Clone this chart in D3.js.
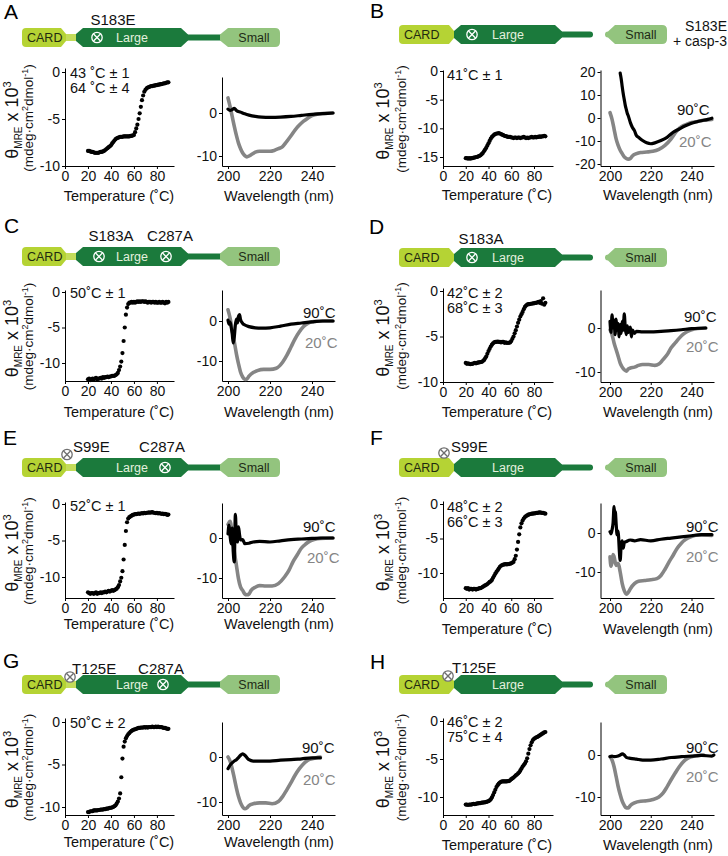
<!DOCTYPE html>
<html><head><meta charset="utf-8">
<script src="https://cdn.jsdelivr.net/npm/d3@7"></script>
<style>
body{margin:0;background:#fff;}
svg{font-family:"Liberation Sans",Arial,Helvetica,sans-serif;}
</style></head><body>
<script>
// ---------------- DATA ----------------
const temps = [20,21,22,23,24,25,26,27,28,29,30,31,32,33,34,35,36,37,38,39,40,41,42,43,44,45,46,47,48,49,50,51,52,53,54,55,56,57,58,59,60,61,62,63,64,65,66,67,68,69,70,71,72,73,74,75,76,77,78,79,80,81,82,83,84,85,86,87,88,89,90];
const tempTicks = [0,20,40,60,80];
const waveTicks = [200,220,240];

const meltA = [-8.4,-8.4,-8.45,-8.5,-8.5,-8.55,-8.6,-8.6,-8.6,-8.6,-8.55,-8.5,-8.5,-8.45,-8.4,
 -8.3,-8.2,-8.1,-8.0,-7.9,-7.8,-7.6,-7.45,-7.3,-7.15,
 -7.05,-7.0,-6.95,-6.9,-6.9,-6.9,-6.85,-6.85,-6.85,-6.85,
 -6.85,-6.85,-6.8,-6.8,-6.75,-6.7,-6.4,-6.0,-5.6,-5.0,
 -4.4,-3.7,-3.0,-2.5,-2.1,-1.9,-1.75,-1.65,-1.6,-1.55,
 -1.5,-1.5,-1.45,-1.45,-1.4,-1.4,-1.35,-1.35,-1.3,-1.3,
 -1.25,-1.2,-1.2,-1.15,-1.1,-1.1];
const meltB = [-15.2,-15.2,-15.3,-15.2,-15.3,-15.2,-15.2,-15.1,-15.1,-15.0,-15.0,-14.9,-14.8,-14.7,-14.5,
 -14.3,-14.0,-13.7,-13.4,-13.0,-12.6,-12.2,-11.8,-11.5,-11.3,
 -11.1,-11.0,-10.9,-10.9,-10.85,-10.9,-11.0,-11.1,-11.2,-11.3,
 -11.35,-11.4,-11.5,-11.5,-11.5,-11.6,-11.6,-11.7,-11.6,-11.6,
 -11.7,-11.6,-11.6,-11.7,-11.6,-11.6,-11.5,-11.6,-11.7,-11.6,
 -11.7,-11.6,-11.6,-11.5,-11.6,-11.6,-11.5,-11.6,-11.5,-11.5,
 -11.4,-11.5,-11.4,-11.4,-11.3,-11.4];
const meltC = [-12.3,-12.2,-12.4,-12.3,-12.2,-12.3,-12.2,-12.1,-12.3,-12.2,-12.2,-12.1,-12.2,-12.0,-12.1,
 -12.0,-12.0,-11.9,-12.0,-11.9,-11.9,-11.8,-11.8,-11.8,-11.7,
 -11.6,-11.4,-11.0,-10.5,-9.8,-8.6,-6.9,-5.0,-3.2,-2.2,
 -1.7,-1.5,-1.5,-1.4,-1.5,-1.4,-1.5,-1.4,-1.3,-1.4,
 -1.3,-1.4,-1.3,-1.3,-1.4,-1.3,-1.4,-1.5,-1.4,-1.4,
 -1.5,-1.4,-1.4,-1.5,-1.4,-1.5,-1.5,-1.4,-1.5,-1.5,
 -1.4,-1.5,-1.6,-1.4,-1.5,-1.4];
const meltD = [-7.9,-8.0,-7.95,-8.0,-8.05,-8.0,-8.0,-7.95,-7.9,-7.95,-7.9,-7.85,-7.85,-7.8,-7.8,
 -7.7,-7.6,-7.4,-7.2,-6.9,-6.6,-6.35,-6.1,-5.9,-5.75,
 -5.65,-5.6,-5.6,-5.55,-5.6,-5.6,-5.65,-5.6,-5.6,-5.7,
 -5.65,-5.7,-5.7,-5.7,-5.65,-5.5,-5.25,-5.0,-4.65,-4.3,
 -3.9,-3.5,-3.15,-2.8,-2.55,-2.3,-2.0,-1.75,-1.6,-1.5,
 -1.45,-1.45,-1.4,-1.4,-1.35,-1.35,-1.3,-1.3,-1.25,-1.2,
 -1.3,-1.1,-1.4,-0.8,-1.5,-1.3];
const meltE = [-12.1,-12.2,-12.3,-12.2,-12.2,-12.3,-12.2,-12.1,-12.3,-12.2,-12.2,-12.1,-12.2,-12.1,-12.1,
 -12.0,-12.1,-12.0,-11.9,-12.0,-11.9,-11.8,-11.9,-11.8,-11.7,
 -11.6,-11.4,-11.1,-10.6,-10.1,-9.2,-7.6,-5.6,-3.7,-2.5,
 -2.0,-1.8,-1.7,-1.6,-1.5,-1.45,-1.4,-1.4,-1.35,-1.3,
 -1.35,-1.3,-1.25,-1.3,-1.2,-1.25,-1.2,-1.2,-1.15,-1.2,
 -1.15,-1.1,-1.2,-1.2,-1.25,-1.2,-1.3,-1.25,-1.3,-1.35,
 -1.3,-1.4,-1.35,-1.4,-1.5,-1.45];
const meltF = [-12.2,-12.3,-12.2,-12.4,-12.3,-12.3,-12.4,-12.3,-12.3,-12.4,-12.3,-12.3,-12.2,-12.2,-12.1,
 -12.0,-11.9,-11.8,-11.7,-11.6,-11.45,-11.3,-11.2,-11.0,-10.7,
 -10.4,-10.1,-9.85,-9.6,-9.35,-9.1,-8.95,-8.85,-8.8,-8.75,
 -8.7,-8.75,-8.7,-8.7,-8.65,-8.6,-8.5,-8.4,-8.0,-7.5,
 -6.6,-5.5,-4.4,-3.4,-2.8,-2.4,-2.1,-1.9,-1.75,-1.65,
 -1.55,-1.5,-1.45,-1.4,-1.4,-1.35,-1.35,-1.3,-1.3,-1.25,
 -1.2,-1.25,-1.3,-1.3,-1.35,-1.4];
const meltG = [-10.6,-10.6,-10.5,-10.5,-10.5,-10.4,-10.4,-10.4,-10.4,-10.35,-10.35,-10.3,-10.3,-10.3,-10.25,
 -10.25,-10.2,-10.2,-10.15,-10.1,-10.1,-10.05,-10.0,-9.9,-9.8,
 -9.6,-9.35,-9.0,-8.4,-6.5,-4.3,-2.9,-2.3,-1.9,-1.65,
 -1.45,-1.3,-1.15,-1.05,-0.95,-0.9,-0.85,-0.8,-0.75,-0.7,
 -0.7,-0.65,-0.65,-0.65,-0.6,-0.65,-0.6,-0.65,-0.6,-0.6,
 -0.6,-0.55,-0.6,-0.6,-0.55,-0.6,-0.55,-0.6,-0.6,-0.6,
 -0.65,-0.7,-0.7,-0.75,-0.8,-0.8];
const meltH = [-11.0,-11.0,-11.05,-11.0,-11.0,-11.0,-10.95,-10.9,-10.95,-10.9,-10.85,-10.85,-10.8,-10.8,-10.75,
 -10.75,-10.7,-10.7,-10.65,-10.6,-10.55,-10.45,-10.3,-10.05,-9.75,
 -9.4,-9.05,-8.7,-8.45,-8.25,-8.1,-8.0,-7.95,-7.95,-7.95,
 -7.95,-7.95,-7.9,-7.9,-7.8,-7.65,-7.55,-7.45,-7.3,-7.15,
 -7.05,-6.9,-6.75,-6.5,-6.25,-6.0,-5.8,-5.6,-5.3,-4.9,
 -4.3,-3.7,-3.2,-2.8,-2.5,-2.35,-2.25,-2.15,-2.1,-2.0,
 -1.9,-1.8,-1.7,-1.6,-1.5,-1.45];

// CD spectra: [wavelength nm, theta x10^3]
const cdA20 = [[200,3.5],[201,1.5],[202,-0.8],[203,-3.1],[204,-5.2],[205,-7.0],[206,-8.3],[207,-9.3],[208,-9.9],[209,-10.2],[210,-10.0],[211,-9.7],[212,-9.4],[213,-9.1],[215,-8.9],[218,-8.9],[220,-8.9],[222,-8.7],[224,-8.3],[226,-7.8],[228,-6.6],[230,-5.3],[232,-3.9],[234,-2.8],[236,-1.9],[238,-1.2],[240,-0.6],[243,-0.2],[246,-0.1],[250,0]];
const cdA90 = [[200,0.9],[201,0.6],[202,0.8],[203,1.1],[204,0.6],[206,0.2],[208,-0.2],[210,-0.5],[213,-0.8],[216,-0.95],[220,-1.0],[225,-0.95],[230,-0.8],[235,-0.55],[240,-0.3],[245,-0.15],[250,0]];
const cdB20 = [[200,2.3],[201,-0.6],[202,-4.8],[203,-9.1],[204,-11.9],[205,-14.0],[206,-15.5],[207,-16.9],[208,-17.6],[209,-17.9],[210,-17.6],[211,-16.5],[213,-15.5],[215,-15.0],[218,-14.8],[221,-14.5],[224,-13.6],[227,-11.9],[230,-9.1],[232,-6.5],[234,-4.5],[236,-3.3],[238,-2.6],[240,-2.0],[243,-1.5],[246,-1.0],[250,-0.6]];
const cdB90 = [[205,19.5],[205.5,17],[206,13.6],[206.5,10.5],[207,8],[207.5,5.5],[208,3.7],[208.5,2],[209,0.9],[210,-2],[211,-4.1],[212,-5.5],[213,-7.7],[214,-8.4],[216,-9.8],[218,-10.8],[220,-11.2],[222,-10.8],[225,-9.8],[228,-8.4],[231,-6.2],[234,-4.8],[237,-3.4],[240,-2.3],[244,-1.3],[248,-0.6],[250,-0.1]];
const cdC20 = [[200,2.8],[201,0.7],[202,-2.3],[203,-5.2],[204,-8.2],[205,-10.7],[206,-12.8],[207,-14.0],[208,-14.6],[209,-14.5],[210,-13.8],[212,-12.9],[214,-12.4],[217,-12.1],[220,-12.1],[223,-11.8],[226,-10.3],[228,-8.6],[230,-6.5],[232,-4.4],[234,-2.7],[236,-1.4],[238,-0.6],[240,-0.2],[243,-0.05],[246,0],[250,0]];
const cdC90 = [[200,0.2],[200.5,-0.8],[201,-0.3],[201.5,-1.5],[202,-3.2],[202.5,-5.5],[203,-4.0],[203.5,-1.0],[204,0.5],[204.5,-0.5],[205,1.2],[205.5,1.6],[206,0.3],[207,-0.6],[208,-1.0],[210,-1.4],[213,-1.7],[216,-1.8],[220,-1.7],[225,-1.3],[230,-0.8],[235,-0.5],[240,-0.2],[245,0],[250,0]];
const cdD20 = [[200,-0.4],[201,-1.5],[202,-3.4],[203,-4.9],[204,-6.4],[205,-8.0],[206,-8.9],[207,-9.5],[208,-9.8],[209,-9.3],[210,-9.1],[212,-8.9],[214,-8.5],[216,-8.3],[219,-8.3],[222,-8.5],[224,-8.2],[226,-7.2],[228,-6.1],[230,-4.5],[232,-3.4],[234,-2.3],[236,-1.4],[238,-0.8],[240,-0.4],[243,-0.1],[247,0]];
const cdD90 = [[200,1.5],[200.5,-1.0],[201,3.0],[201.5,0],[202,1.8],[202.5,-1.5],[203,2.0],[203.5,-0.5],[204,1.0],[204.5,-2.0],[205,0.8],[205.5,-1.2],[206,1.5],[206.5,-0.5],[207,3.2],[207.5,0],[208,-1.5],[208.5,0.5],[209,-1.0],[210,0.2],[210.5,-2.0],[211,-0.5],[212,-1.2],[213,-0.75],[216,-0.9],[220,-0.9],[225,-0.75],[230,-0.6],[235,-0.4],[240,-0.15],[247,0]];
const cdE20 = [[200,3.4],[201,4.2],[202,0.8],[203,-3.4],[204,-6.8],[205,-10.2],[206,-12.3],[207,-13.1],[208,-14.0],[209,-14.2],[210,-14.0],[211,-13.1],[213,-12.3],[215,-11.9],[218,-12.0],[221,-12.0],[224,-11.4],[227,-9.7],[229,-8.1],[231,-5.9],[233,-4.2],[235,-2.5],[237,-1.5],[239,-0.8],[241,-0.4],[244,-0.1],[250,0]];
const cdE90 = [[200,1.0],[200.5,3.2],[201,0.5],[201.5,-1.5],[202,2.5],[202.5,-3.5],[203,-6.0],[203.5,5.9],[204,0.5],[204.5,-1.0],[205,2.8],[205.5,0.8],[206,-0.5],[207,-0.4],[208,-1.4],[210,-1.3],[212,-1.0],[215,-0.85],[220,-1.0],[225,-0.7],[230,-0.4],[235,-0.25],[240,-0.1],[245,0],[250,0]];
const cdF20 = [[200,-6.1],[200.5,-8.5],[201,-7.4],[201.5,-5.5],[202,-6.1],[203,-8.3],[204,-7.8],[205,-10.0],[206,-13.0],[207,-14.8],[208,-15.7],[209,-15.2],[210,-14.3],[212,-13.0],[214,-12.4],[217,-12.2],[220,-12.0],[223,-11.7],[225,-10.9],[227,-9.3],[229,-7.4],[231,-5.7],[233,-3.9],[235,-2.6],[237,-1.7],[240,-0.9],[244,-0.5],[250,-0.6]];
const cdF90 = [[200,0.3],[200.5,-0.2],[201,0.8],[201.5,2.5],[202,6.8],[202.3,4.5],[202.6,5.5],[203,2.5],[203.5,-0.5],[204,0.5],[204.3,-1.8],[204.6,-4.8],[205,-7.0],[205.5,-3.0],[206,-2.0],[206.5,-3.9],[207,-2.5],[208,-2.2],[210,-1.8],[212,-2.0],[215,-1.7],[220,-2.0],[225,-1.6],[230,-1.3],[235,-1.0],[240,-0.7],[245,-0.4],[250,-0.4]];
const cdG20 = [[200,0],[201,-0.9],[202,-2.6],[203,-4.7],[204,-6.9],[205,-8.8],[206,-10.2],[207,-11.1],[208,-11.5],[209,-11.3],[210,-10.8],[212,-10.4],[215,-10.2],[218,-10.2],[221,-10.4],[224,-9.9],[226,-8.8],[228,-7.3],[230,-5.7],[232,-4.0],[234,-2.6],[236,-1.5],[238,-0.7],[240,-0.4],[242,-0.15],[244,0]];
const cdG90 = [[200,-2.6],[201,-1.8],[202,-1.3],[203,-0.9],[204,-0.6],[205,-0.15],[206,0.4],[207,0.7],[208,0.4],[209,-0.15],[210,-0.6],[212,-0.9],[215,-0.9],[220,-0.9],[225,-0.7],[230,-0.6],[235,-0.4],[240,-0.2],[244,-0.2]];
const cdH20 = [[200,-0.4],[201,-1.2],[202,-2.8],[203,-5.1],[204,-7.5],[205,-9.4],[206,-11.0],[207,-12.0],[208,-12.6],[209,-12.6],[210,-12.0],[212,-11.4],[215,-11.0],[218,-10.9],[221,-10.6],[224,-10.0],[226,-9.1],[228,-7.6],[230,-5.9],[232,-4.3],[234,-2.8],[236,-1.6],[238,-0.8],[240,-0.4],[243,-0.15],[246,0]];
const cdH90 = [[200,-0.4],[201,-0.25],[202,-0.4],[204,-0.25],[205,0],[206,0.25],[207,0],[208,-0.55],[210,-0.8],[213,-1.0],[216,-1.2],[220,-1.2],[225,-0.95],[230,-0.6],[235,-0.4],[240,-0.25],[245,-0.1],[250,-0.25],[251,0]];

const tmLabels = {A:["43 ˚C ± 1","64 ˚C ± 4"],B:["41˚C ± 1"],C:["50˚C ± 1"],D:["42˚C ± 2","68˚C ± 3"],E:["52˚C ± 1"],F:["48˚C ± 2","66˚C ± 3"],G:["50˚C ± 2"],H:["46˚C ± 2","75˚C ± 4"]};

// ---------------- LAYOUT ----------------
const COL = [
 {ox:0, tAxis:65, tRef:[[0,65.5],[80,157]], tEnd:174, cAxis:222, cRef:[[200,228],[240,312]], cEnd:335,
  y1x:17.5, y2x:32.5, tTitle:119, cTitle:279, tmX:70,
  geo:{card0:22,card1:61,large0:76,large1:188,linkEnd:221,small0:220,smallFull:228,small1:280}},
 {ox:364, tAxis:443, tRef:[[0,443],[80,534]], tEnd:553, cAxis:600.5, cRef:[[200,610],[240,691.5]], cEnd:714,
  y1x:389, y2x:405.5, tTitle:497, cTitle:658, tmX:447,
  geo:{card0:35,card1:85,large0:90,large1:198,linkEnd:229,small0:241,smallFull:251,small1:303}}
];
const panels = [
 {id:"A",col:0,letter:[4,19],bar:28,melt:meltA,c20:cdA20,c90:cdA90,tV:[[0,72],[-10,166]],tT:68,tB:166,tTicks:[0,-5,-10],cV:[[0,113],[-10,156]],cT:77,cB:166,cTicks:[0,-10],title:201,tm:[78,93],lab:null,
  marks:[{x:97,inside:true}],muts:[{t:"S183E",x:113,y:25,a:"middle"}]},
 {id:"B",col:1,letter:[370,18],bar:25,melt:meltB,c20:cdB20,c90:cdB90,tV:[[0,71],[-15,157]],tT:70,tB:166,tTicks:[0,-5,-10,-15],cV:[[20,72],[-20,164]],cT:70,cB:166,cTicks:[20,10,0,-10,-20],title:200,tm:[80],lab:[[677,115],[679,147]],
  marks:[{x:472,inside:true}],muts:[{t:"S183E",x:727,y:31,a:"end",fs:14},{t:"+ casp-3",x:727,y:46,a:"end",fs:14}]},
 {id:"C",col:0,letter:[4,233],bar:247,melt:meltC,c20:cdC20,c90:cdC90,tV:[[0,292],[-10,363]],tT:290,tB:381,tTicks:[0,-5,-10],cV:[[0,321],[-10,361]],cT:290,cB:381,cTicks:[0,-10],title:417,tm:[298],lab:[[303,318],[305,348]],
  marks:[{x:99,inside:true},{x:166,inside:true}],muts:[{t:"S183A",x:111,y:241,a:"middle"},{t:"C287A",x:170,y:241,a:"middle"}]},
 {id:"D",col:1,letter:[369,234],bar:248,melt:meltD,c20:cdD20,c90:cdD90,tV:[[0,291],[-10,382]],tT:288,tB:382,tTicks:[0,-5,-10],cV:[[0,328],[-10,372]],cT:290,cB:382,cTicks:[0,-10],title:417,tm:[298,313],lab:[[684,322],[686,352]],
  marks:[{x:472,inside:true}],muts:[{t:"S183A",x:481,y:244,a:"middle"}]},
 {id:"E",col:0,letter:[3,445],bar:458,melt:meltE,c20:cdE20,c90:cdE90,tV:[[0,504],[-10,577]],tT:502,tB:598,tTicks:[0,-5,-10],cV:[[0,538],[-10,578]],cT:503,cB:598,cTicks:[0,-10],title:629,tm:[511],lab:[[303,532],[307,563]],
  marks:[{x:67,y:454.5,inside:false},{x:165,inside:true}],muts:[{t:"S99E",x:73,y:452,a:"start"},{t:"C287A",x:162,y:452,a:"middle"}]},
 {id:"F",col:1,letter:[370,445],bar:458,melt:meltF,c20:cdF20,c90:cdF90,tV:[[0,504],[-10,573]],tT:501,tB:598,tTicks:[0,-5,-10],cV:[[0,533],[-10,572]],cT:503,cB:598,cTicks:[0,-10],title:634,tm:[512,527],lab:[[686,532],[686,562]],
  marks:[{x:444,y:453,inside:false}],muts:[{t:"S99E",x:451,y:452,a:"start"}]},
 {id:"G",col:0,letter:[3,668],bar:675,melt:meltG,c20:cdG20,c90:cdG90,tV:[[0,722],[-10,807]],tT:718,tB:815,tTicks:[0,-5,-10],cV:[[0,757],[-10,802]],cT:722,cB:815,cTicks:[0,-10],title:847,tm:[728],lab:[[302,753],[303,785]],
  marks:[{x:70,y:677,inside:false},{x:163,inside:true}],muts:[{t:"T125E",x:72,y:674,a:"start"},{t:"C287A",x:161,y:674,a:"middle"}]},
 {id:"H",col:1,letter:[370,669],bar:675,melt:meltH,c20:cdH20,c90:cdH90,tV:[[0,721],[-10,797]],tT:718,tB:815,tTicks:[0,-5,-10],cV:[[0,755],[-10,797]],cT:722,cB:815,cTicks:[0,-10],title:850,tm:[727,742],lab:[[686,753],[686,782]],
  marks:[{x:448,y:676,inside:false}],muts:[{t:"T125E",x:452,y:673,a:"start"}]}
];

const CLR = {card:"#b5d334",cardLink:"#c3dc5a",large:"#1b7a3c",small:"#93c47e",gray:"#858585",
  cardTxt:"#1f2a10",largeTxt:"#e4f1de",smallTxt:"#1e2b16"};

// ---------------- DRAW ----------------
const svg = d3.select("body").append("svg").attr("width",728).attr("height",856);
const lin2 = ref => d3.scaleLinear().domain([ref[0][0],ref[1][0]]).range([ref[0][1],ref[1][1]]);

function mark(g,x,y,color,fill){
  const r=5.2, k=r*0.66;
  g.append("circle").attr("cx",x).attr("cy",y).attr("r",r).attr("fill",fill).attr("stroke",color).attr("stroke-width",1.3);
  g.append("line").attr("x1",x-k).attr("y1",y-k).attr("x2",x+k).attr("y2",y+k).attr("stroke",color).attr("stroke-width",1.3);
  g.append("line").attr("x1",x-k).attr("y1",y+k).attr("x2",x+k).attr("y2",y-k).attr("stroke",color).attr("stroke-width",1.3);
}

function domainBar(g, ox, geo, top, cleaved){
  const h=19, mid=top+h/2, b=top+h, X=v=>v+ox;
  const c0=X(geo.card0), c1=X(geo.card1), l0=X(geo.large0), l1=X(geo.large1), le=X(geo.linkEnd), s0=X(geo.small0), sf=X(geo.smallFull), s1=X(geo.small1);
  g.append("rect").attr("x",c1).attr("y",mid-3.5).attr("width",l0+4-c1).attr("height",7).attr("fill",CLR.cardLink);
  const r=4;
  g.append("path").attr("fill",CLR.card)
   .attr("d",`M${c0+r},${top}H${c1}L${c1+5},${mid-3.5}V${mid+3.5}L${c1},${b}H${c0+r}Q${c0},${b} ${c0},${b-r}V${top+r}Q${c0},${top} ${c0+r},${top}Z`);
  if(cleaved){
    g.append("rect").attr("x",l1-4).attr("y",mid-3).attr("width",le-l1+4).attr("height",6).attr("rx",3).attr("fill",CLR.large);
  } else {
    g.append("rect").attr("x",l1-4).attr("y",mid-3).attr("width",s0+4-l1+4).attr("height",6).attr("fill",CLR.large);
  }
  g.append("path").attr("fill",CLR.large)
   .attr("d",`M${l0},${mid-3.5}L${l0+7},${top}H${l1-7}L${l1},${mid-3}V${mid+3}L${l1-7},${b}H${l0+7}L${l0},${mid+3.5}Z`);
  const sr=5;
  if(cleaved){
    g.append("path").attr("fill",CLR.small)
     .attr("d",`M${s0+3},${mid-3}H${sf-7}L${sf},${top}H${s1-sr}Q${s1},${top} ${s1},${top+sr}V${b-sr}Q${s1},${b} ${s1-sr},${b}H${sf}L${sf-7},${mid+3}H${s0+3}A3,3 0 0 1 ${s0+3},${mid-3}Z`);
  } else {
    g.append("path").attr("fill",CLR.small)
     .attr("d",`M${s0},${mid-3}L${sf},${top}H${s1-sr}Q${s1},${top} ${s1},${top+sr}V${b-sr}Q${s1},${b} ${s1-sr},${b}H${sf}L${s0},${mid+3}Z`);
  }
  g.append("text").attr("x",c0+5).attr("y",mid+4.5).attr("fill",CLR.cardTxt).style("font-size","12.5px").text("CARD");
  g.append("text").attr("x",(l0+l1)/2).attr("y",mid+4.5).attr("text-anchor","middle").attr("fill",CLR.largeTxt).style("font-size","12.5px").text("Large");
  g.append("text").attr("x",(sf+s1)/2).attr("y",mid+4.5).attr("text-anchor","middle").attr("fill",CLR.smallTxt).style("font-size","12.5px").text("Small");
}

function styleAxis(sel){
  sel.select(".domain").attr("stroke","#000").attr("stroke-width",1);
  sel.selectAll(".tick line").attr("stroke","#000");
  sel.selectAll(".tick text").attr("fill","#111").style("font-size","14px").style("font-family",'"Liberation Sans",Arial,sans-serif');
}

panels.forEach(p=>{
  const c = COL[p.col];
  const g = svg.append("g");
  g.append("text").attr("x",p.letter[0]).attr("y",p.letter[1]).style("font-size","21px").attr("fill","#000").text(p.id);
  domainBar(g, c.ox, c.geo, p.bar, p.col===1);
  const mid = p.bar+9.5;
  p.marks.forEach(m=>{
    if(m.inside) mark(g,m.x,mid,"#ffffff","none");
    else mark(g,m.x,m.y,"#6f6f6f","#ffffff");
  });
  p.muts.forEach(m=>{
    g.append("text").attr("x",m.x).attr("y",m.y).attr("text-anchor",m.a).style("font-size",(m.fs||15)+"px").attr("fill","#111").text(m.t);
  });

  // ---- melting curve ----
  const xT0 = lin2(c.tRef);
  const xT = d3.scaleLinear().domain([0, xT0.invert(c.tEnd)]).range([c.tAxis, c.tEnd]);
  const yT0 = lin2(p.tV);
  const yT = d3.scaleLinear().domain([yT0.invert(p.tB), yT0.invert(p.tT)]).range([p.tB, p.tT]);
  const ax1 = g.append("g").attr("transform",`translate(${c.tAxis},0)`)
    .call(d3.axisLeft(yT).tickValues(p.tTicks).tickFormat(d=>String(d)).tickSize(3).tickSizeOuter(0).tickPadding(2));
  styleAxis(ax1);
  const ax2 = g.append("g").attr("transform",`translate(0,${p.tB})`)
    .call(d3.axisBottom(xT).tickValues(tempTicks).tickFormat(d=>String(d)).tickSize(3).tickSizeOuter(0).tickPadding(2));
  styleAxis(ax2);
  ax2.selectAll(".tick text").attr("dy",null).attr("y",15);
  g.append("g").selectAll("circle").data(temps.map((t,i)=>[t,p.melt[i]])).join("circle")
    .attr("cx",d=>xT(d[0])).attr("cy",d=>yT(d[1])).attr("r",2.1).attr("fill","#000");
  p.tm.forEach((yy,i)=>{
    g.append("text").attr("x",c.tmX).attr("y",yy).style("font-size","14.5px").attr("fill","#111").text(tmLabels[p.id][i]);
  });
  g.append("text").attr("x",c.tTitle).attr("y",p.title).attr("text-anchor","middle").style("font-size","14.5px").attr("fill","#111").text("Temperature (˚C)");
  const cy = (p.tT+p.tB)/2+3;
  const t1 = g.append("text").attr("transform",`translate(${c.y1x},${cy}) rotate(-90)`).attr("text-anchor","middle").style("font-size","18px").attr("fill","#111");
  t1.append("tspan").text("θ");
  t1.append("tspan").attr("dy",4).style("font-size","10px").text("MRE");
  t1.append("tspan").attr("dy",-4).text(" x 10");
  t1.append("tspan").attr("dy",-7).style("font-size","11px").text("3");
  const t2 = g.append("text").attr("transform",`translate(${c.y2x},${cy-2}) rotate(-90)`).attr("text-anchor","middle").style("font-size","13.5px").attr("fill","#111");
  t2.append("tspan").text("(mdeg·cm");
  t2.append("tspan").attr("dy",-5).style("font-size","9px").text("2");
  t2.append("tspan").attr("dy",5).text("dmol");
  t2.append("tspan").attr("dy",-5).style("font-size","9px").text("-1");
  t2.append("tspan").attr("dy",5).text(")");

  // ---- CD spectra ----
  const xC0 = lin2(c.cRef);
  const xC = d3.scaleLinear().domain([xC0.invert(c.cAxis), xC0.invert(c.cEnd)]).range([c.cAxis, c.cEnd]);
  const yC0 = lin2(p.cV);
  const yC = d3.scaleLinear().domain([yC0.invert(p.cB), yC0.invert(p.cT)]).range([p.cB, p.cT]);
  const ax3 = g.append("g").attr("transform",`translate(${c.cAxis},0)`)
    .call(d3.axisLeft(yC).tickValues(p.cTicks).tickFormat(d=>String(d)).tickSize(3).tickSizeOuter(0).tickPadding(2));
  styleAxis(ax3);
  const ax4 = g.append("g").attr("transform",`translate(0,${p.cB})`)
    .call(d3.axisBottom(xC).tickValues(waveTicks).tickFormat(d=>String(d)).tickSize(3).tickSizeOuter(0).tickPadding(2));
  styleAxis(ax4);
  ax4.selectAll(".tick text").attr("dy",null).attr("y",15);
  const line = d3.line().x(d=>xC(d[0])).y(d=>yC(d[1])).curve(d3.curveMonotoneX);
  g.append("path").datum(p.c20).attr("d",line).attr("fill","none").attr("stroke",CLR.gray).attr("stroke-width",3.6).attr("stroke-linejoin","round").attr("stroke-linecap","round");
  g.append("path").datum(p.c90).attr("d",line).attr("fill","none").attr("stroke","#000").attr("stroke-width",3.2).attr("stroke-linejoin","round").attr("stroke-linecap","round");
  if(p.lab){
    g.append("text").attr("x",p.lab[0][0]).attr("y",p.lab[0][1]).style("font-size","15px").attr("fill","#111").text("90˚C");
    g.append("text").attr("x",p.lab[1][0]).attr("y",p.lab[1][1]).style("font-size","15px").attr("fill",CLR.gray).text("20˚C");
  }
  g.append("text").attr("x",c.cTitle).attr("y",p.title).attr("text-anchor","middle").style("font-size","14.5px").attr("fill","#111").text("Wavelength (nm)");
});
</script>
</body></html>
